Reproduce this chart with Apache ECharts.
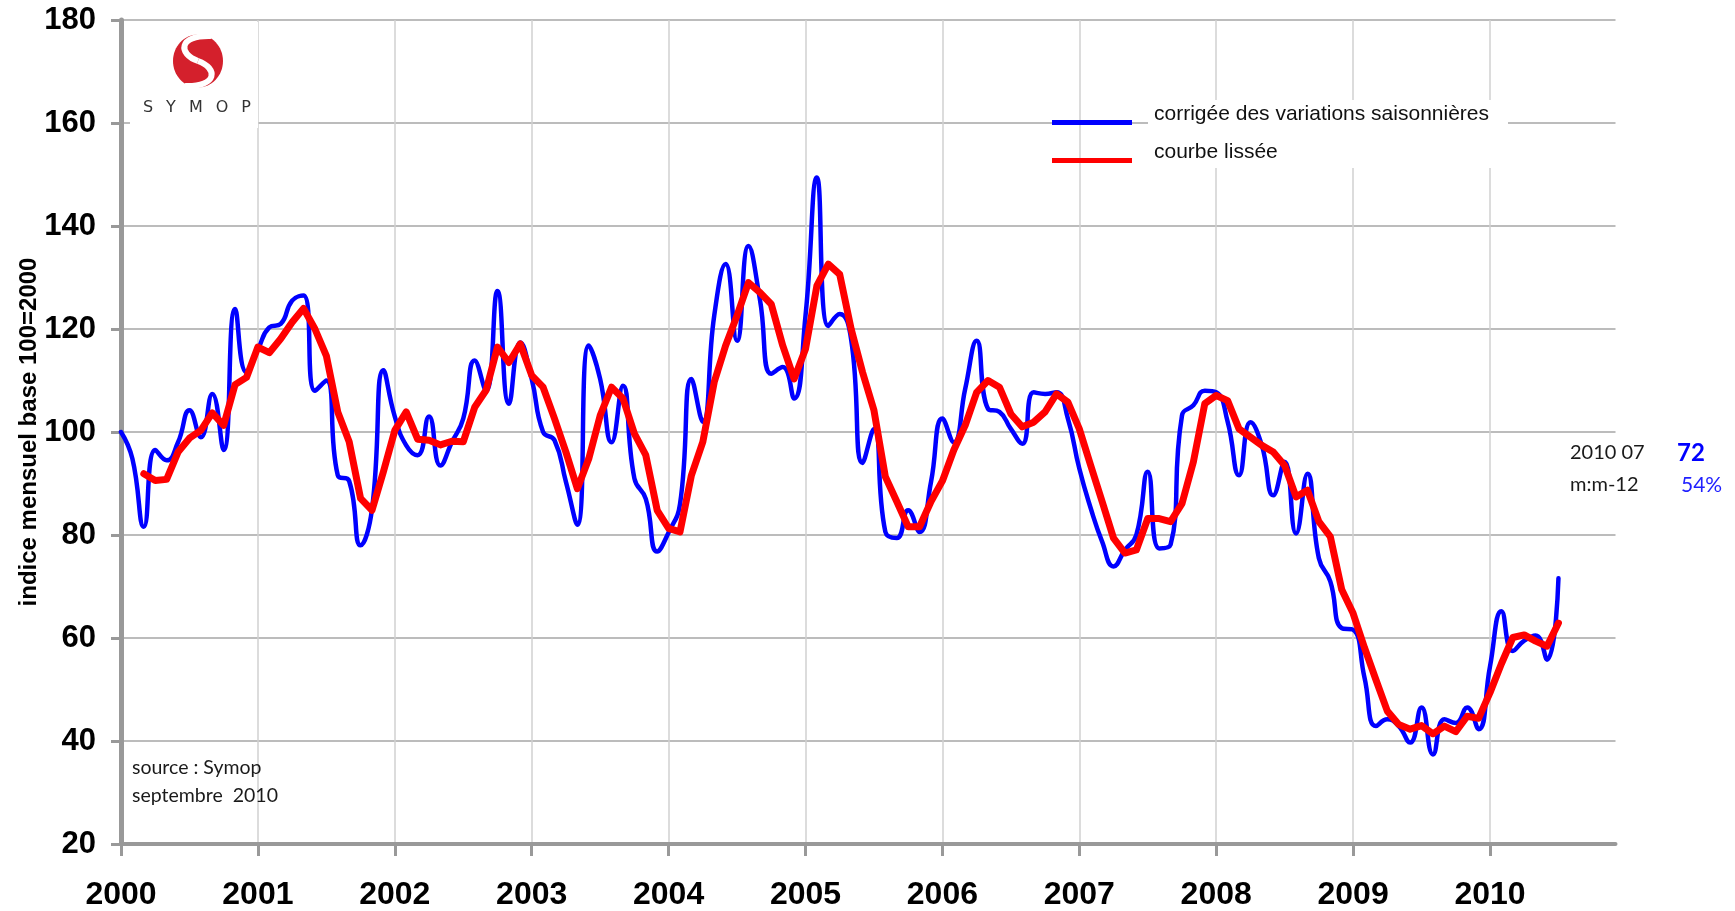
<!DOCTYPE html>
<html><head><meta charset="utf-8">
<script src="https://cdn.jsdelivr.net/npm/echarts/dist/echarts.min.js"></script>
<style>html,body{margin:0;padding:0;background:#fff}#c{width:1735px;height:911px}</style>
</head><body><div id="c"></div>
<script>
// ---- data ----
const years = ['2000','2001','2002','2003','2004','2005','2006','2007','2008','2009','2010'];
const monthCodes = ['01','02','03','04','05','06','07','08','09','10','11','12'];
const legendNames = ['corrigée des variations saisonnières', 'courbe lissée'];
// indice corrigé des variations saisonnières, Jan 2000 .. Jul 2010
const cvs = [
  100, 94.8, 81.6, 96.5, 94.5, 98, 104.2, 99, 107.4, 96.5, 123.9, 111.6,
  116, 120.3, 121, 125.5, 126.5, 108, 110, 91.6, 90.5, 78, 85, 112,
  103, 97.4, 95.5, 103, 93.5, 98, 102.6, 113.9, 108, 127.4, 105.5, 117.4,
  110.3, 100, 98.4, 90.3, 82, 116.8, 110.3, 98, 109, 91, 87, 76.8,
  80.5, 86, 110.3, 102, 122.6, 132.6, 117.7, 136.1, 125.8, 111.3, 112.6, 106.5,
  122.6, 149.4, 120.6, 122.9, 118, 94, 100.6, 80.6, 79.4, 84.8, 80.6, 90.3,
  102.6, 98, 108.4, 117.7, 104.5, 103.9, 100.6, 97.7, 107.7, 107.4, 107.7, 102.6,
  92.9, 85.2, 78.7, 73.9, 77.1, 80, 92.3, 77.4, 78.1, 103.2, 105.2, 108,
  107.7, 102, 91.6, 101.9, 97.4, 87.7, 94.2, 80.3, 91.9, 75.5, 71, 61.9,
  61.6, 52.3, 42.9, 44.2, 42.9, 39.7, 46.5, 37.4, 44.2, 43.5, 46.5, 42.3,
  54.5, 65.2, 57.5, 59.5, 60.5, 55.8, 71.6
];
// courbe lissée (starts March 2000)
const lissee = [
  null, null, 91.9, 90.6, 90.8, 96.1, 98.8, 100.3, 103.7, 101.3, 109.2, 110.6,
  116.5, 115.4, 118.1, 121.3, 124, 120, 114.8, 103.9, 98.1, 87.1, 84.8, 92.3,
  100.3, 103.9, 98.6, 98.4, 97.5, 98.2, 98.1, 104.8, 108.1, 116.5, 113.5, 117.1,
  111, 108.7, 102.6, 96.1, 89, 94.8, 103.2, 108.7, 106.5, 99.7, 95.5, 84.8,
  81.3, 80.6, 91.6, 98.1, 109.7, 116.8, 122.6, 129, 127.1, 124.8, 116.8, 110.3,
  116.1, 128.4, 132.6, 130.6, 120, 111.6, 104.2, 91.3, 86.5, 81.6, 81.6, 86.5,
  90.5, 96.5, 101.3, 107.7, 110, 108.7, 103.5, 101, 101.9, 103.9, 107.4, 105.8,
  100.6, 93.5, 86.5, 79.4, 76.5, 77.1, 83.2, 83.2, 82.6, 86.1, 94.2, 105.5,
  107.1, 106.1, 100.6, 99, 97.4, 96.1, 93.5, 87.4, 88.7, 82.6, 79.7, 69.4,
  64.8, 58.1, 51.9, 45.8, 43.2, 42.3, 43, 41.4, 42.9, 41.8, 44.8, 44.4,
  49.4, 55, 60.1, 60.6, 59.4, 58.4, 62.9
];
const yMin = 20, yMax = 180, yStep = 20;
const yAxisTitle = 'indice mensuel base 100=2000';
const latestLabel = '2010 07';
const latestValue = '72';
const yoyLabel = 'm:m-12';
const yoyValue = '54%';
const sourceLines = ['source : Symop', 'septembre  2010'];
const logoLetters = ['S','Y','M','O','P'];

// ---- categories ----
const months = [];
years.forEach(y => monthCodes.forEach(m => months.push(y + '-' + m)));

const yearStart = (i) => i % 12 === 0;
const chart = echarts.init(document.getElementById('c'), null, {renderer: 'canvas'});

const logoX = [148, 171, 196, 222, 246];
const graphics = [
  {type: 'rect', z: 1, shape: {x: 130, y: 22, width: 128, height: 106}, style: {fill: '#fff'}},
  {type: 'ellipse', z: 1, shape: {cx: 198, cy: 61, rx: 25, ry: 26.5}, style: {fill: '#d4202c'}},
  {type: 'bezierCurve', z: 1, shape: {x1: 211, y1: 36, cpx1: 178, cpy1: 35, cpx2: 178, cpy2: 54, x2: 198, y2: 61},
   style: {fill: 'none', stroke: '#fff', lineWidth: 6}},
  {type: 'bezierCurve', z: 1, shape: {x1: 198, y1: 61, cpx1: 218, cpy1: 68, cpx2: 218, cpy2: 87, x2: 185, y2: 86},
   style: {fill: 'none', stroke: '#fff', lineWidth: 6}},
  {type: 'rect', z: 1, shape: {x: 1148, y: 100, width: 360, height: 68}, style: {fill: '#fff'}}
];
logoLetters.forEach((t, i) => graphics.push({
  type: 'text', z: 1, style: {text: t, x: logoX[i], y: 108, align: 'center', verticalAlign: 'middle',
    fontSize: 16, fontFamily: 'DejaVu Sans', fill: '#333'}
}));
graphics.push(
  {type: 'text', z: 5, style: {text: latestLabel, x: 1570, y: 453, verticalAlign: 'middle', fontSize: 20, fontFamily: 'Lato', fill: '#1a1a1a'}},
  {type: 'text', z: 5, style: {text: latestValue, x: 1677, y: 453, verticalAlign: 'middle', fontSize: 24, fontWeight: 'bold', fontFamily: 'Lato', fill: '#0000ff'}},
  {type: 'text', z: 5, style: {text: yoyLabel, x: 1570, y: 485, verticalAlign: 'middle', fontSize: 20, fontFamily: 'Lato', fill: '#1a1a1a'}},
  {type: 'text', z: 5, style: {text: yoyValue, x: 1681, y: 485, verticalAlign: 'middle', fontSize: 21, fontFamily: 'Lato', fill: '#1f1fff'}},
  {type: 'text', z: 5, style: {text: sourceLines[0], x: 132, y: 768, verticalAlign: 'middle', fontSize: 19.5, fontFamily: 'Lato', fill: '#1a1a1a'}},
  {type: 'text', z: 5, style: {text: sourceLines[1], x: 132, y: 796, verticalAlign: 'middle', fontSize: 19.5, fontFamily: 'Lato', fill: '#1a1a1a'}}
);

chart.setOption({
  animation: false,
  backgroundColor: '#fff',
  grid: {left: 121, right: 119.5, top: 20, bottom: 64.5, containLabel: false},
  legend: {
    orient: 'vertical', left: 1052, top: 104, padding: 0, itemWidth: 80, itemHeight: 5, itemGap: 8,
    icon: 'rect', data: legendNames, selectedMode: false,
    formatter: n => '{t|' + n + '}\n{s| }',
    textStyle: {
      fontSize: 21, fontFamily: 'Liberation Sans', color: '#111', padding: [0, 0, 0, 17],
      rich: {
        t: {fontSize: 21, lineHeight: 21, fontFamily: 'Liberation Sans', color: '#111'},
        s: {fontSize: 2, lineHeight: 16}
      }
    }
  },
  xAxis: {
    type: 'category', data: months, boundaryGap: false,
    axisLine: {lineStyle: {color: '#999', width: 4}},
    axisTick: {show: true, interval: yearStart, length: 12, lineStyle: {color: '#999', width: 3}},
    axisLabel: {interval: yearStart, formatter: v => v.slice(0, 4), fontSize: 32, fontWeight: 'bold',
      fontFamily: 'Liberation Sans', color: '#000', margin: 35},
    splitLine: {show: true, interval: yearStart, lineStyle: {color: '#d0d0d0', width: 1.5}}
  },
  yAxis: {
    type: 'value', min: yMin, max: yMax, interval: yStep,
    name: yAxisTitle, nameLocation: 'middle', nameRotate: 90, nameGap: 80, nameMoveOverlap: false,
    nameTextStyle: {fontSize: 24, fontWeight: 'bold', fontFamily: 'Liberation Sans', color: '#000'},
    axisLine: {show: true, lineStyle: {color: '#999', width: 5}},
    axisTick: {show: true, length: 10, lineStyle: {color: '#999', width: 3}},
    axisLabel: {fontSize: 31, fontWeight: 'bold', fontFamily: 'Liberation Sans', color: '#000', margin: 25},
    splitLine: {show: true, lineStyle: {color: '#a6a6a6', width: 1.5}}
  },
  graphic: graphics,
  series: [
    {name: legendNames[0], type: 'line', data: cvs, smooth: 0.5, symbol: 'none', z: 2,
     lineStyle: {color: '#0000ff', width: 4.5, join: 'round', cap: 'round'}, itemStyle: {color: '#0000ff'}},
    {name: legendNames[1], type: 'line', data: lissee, smooth: false, symbol: 'none', z: 3,
     lineStyle: {color: '#ff0000', width: 7, join: 'round', cap: 'round'}, itemStyle: {color: '#ff0000'}}
  ]
});
</script></body></html>
